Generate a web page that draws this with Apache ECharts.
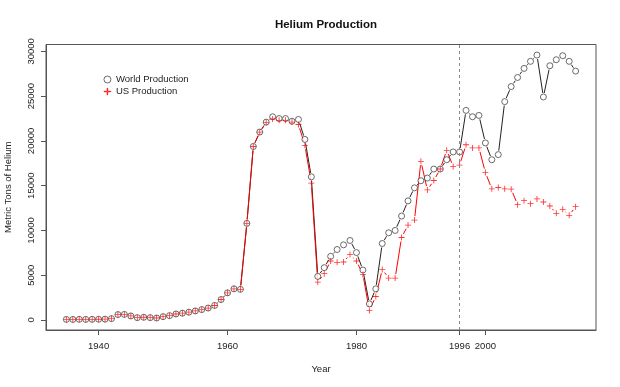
<!DOCTYPE html>
<html><head><meta charset="utf-8">
<script src="https://cdn.jsdelivr.net/npm/echarts@6/dist/echarts.min.js"></script>
<style>html,body{margin:0;padding:0;background:#fff}#c{width:620px;height:387px}</style>
</head><body><div id="c"></div>
<script>
const years = [1935,1936,1937,1938,1939,1940,1941,1942,1943,1944,1945,1946,1947,1948,1949,
  1950,1951,1952,1953,1954,1955,1956,1957,1958,1959,1960,1961,1962,1963,1964,1965,1966,1967,1968,1969,
  1970,1971,1972,1973,1974,1975,1976,1977,1978,1979,1980,1981,1982,1983,1984,1985,1986,1987,1988,1989,
  1990,1991,1992,1993,1994,1995,1996,1997,1998,1999,2000,2001,2002,2003,2004,2005,2006,2007,2008,2009,
  2010,2011,2012,2013,2014];
const worldProduction = [60,60,70,60,70,80,90,150,600,620,450,260,300,260,220,
  370,480,670,760,870,1010,1160,1330,1620,2280,3030,3480,3420,10790,19380,20990,22100,22700,22500,22500,
  22200,22400,20170,15990,4870,5840,7110,7870,8390,8880,7530,5580,1800,3480,8540,9740,10000,11610,13300,14760,
  15550,15850,16860,16860,17900,18770,18770,23410,22700,22850,19780,17900,18470,24390,26070,27090,28100,28890,29590,24910,
  28400,29070,29520,28890,27800];
const usProduction = [60,60,70,60,70,80,90,150,600,620,450,260,300,260,220,
  370,480,670,760,870,1010,1160,1330,1620,2280,3030,3480,3420,10790,19380,20990,22050,22450,22300,22300,
  22100,21840,19510,15280,4230,5170,6590,6440,6480,7300,6590,5090,1050,2620,5650,4680,4680,9210,10600,11160,
  17720,14530,15580,16860,18950,17150,17300,19570,19220,19220,16480,14650,14800,14650,14610,12880,13330,12990,13520,13180,
  12730,11910,12360,11690,12660];
const xTickValues = [1940,1960,1980,1996,2000];
const yTickValues = [0,5000,10000,15000,20000,25000,30000];
const markerYear = 1996;
const seriesNames = ['World Production','US Production'];

const FONT = '"Liberation Sans", Arial, Helvetica, sans-serif';
const plusPath = 'path://M3,0H4V3H7V4H4V7H3V4H0V3H3Z';

// R-style 4% axis padding
const xLo = Math.min(...years), xHi = Math.max(...years);
const xPad = 0.04 * (xHi - xLo);
const allVals = worldProduction.concat(usProduction);
const yLo = Math.min(...allVals), yHi = Math.max(...allVals);
const yPad = 0.04 * (yHi - yLo);

function segments(vals) {
  const out = [];
  for (let i = 1; i < years.length; i++) out.push([years[i-1], vals[i-1], years[i], vals[i]]);
  return out;
}
function gapLine(color) {
  return function (params, api) {
    const p0 = api.coord([api.value(0), api.value(1)]);
    const p1 = api.coord([api.value(2), api.value(3)]);
    const dx = p1[0] - p0[0], dy = p1[1] - p0[1];
    const len = Math.sqrt(dx*dx + dy*dy);
    const gap = 4;
    if (len <= 2*gap) return null;
    const ux = dx/len, uy = dy/len;
    return {
      type: 'line',
      shape: {x1: p0[0]+ux*gap, y1: p0[1]+uy*gap, x2: p1[0]-ux*gap, y2: p1[1]-uy*gap},
      style: {stroke: color, lineWidth: 1}
    };
  };
}
function pts(vals) { return years.map((y, i) => [y, vals[i]]); }

const chart = echarts.init(document.getElementById('c'), null, {renderer: 'canvas'});
chart.setOption({
  animation: false,
  backgroundColor: '#fff',
  textStyle: {fontFamily: FONT},
  title: {
    text: 'Helium Production', left: 321, top: 14, textAlign: 'center',
    textStyle: {fontFamily: FONT, fontSize: 11.5, fontWeight: 'bold', color: '#111'}
  },
  legend: {
    orient: 'vertical', left: 98.5, top: 69.5, padding: 5, itemWidth: 7, itemHeight: 7, itemGap: 2,
    selectedMode: false, inactiveColor: '#ff0000',
    textStyle: {fontFamily: FONT, fontSize: 9.5, color: '#222', lineHeight: 9},
    data: [
      {name: seriesNames[0], icon: 'circle', itemStyle: {color: '#fff', borderColor: '#333', borderWidth: 0.9}},
      {name: seriesNames[1], icon: plusPath, itemStyle: {color: '#ff0000', borderColor: '#ff0000', borderWidth: 0.4}}
    ]
  },
  grid: {left: 46, right: 24, top: 44.5, bottom: 57, containLabel: false, outerBoundsMode: 'none',
    show: true, borderColor: '#555', borderWidth: 1, backgroundColor: 'transparent'},
  xAxis: {
    type: 'value', min: xLo - xPad, max: xHi + xPad,
    name: 'Year', nameLocation: 'middle', nameGap: 34,
    nameTextStyle: {fontFamily: FONT, fontSize: 9.5, color: '#222'},
    axisLine: {show: true, onZero: false, lineStyle: {color: '#555', width: 1}},
    axisTick: {show: true, length: 5, customValues: xTickValues, lineStyle: {color: '#555', width: 1}},
    axisLabel: {customValues: xTickValues, margin: 11, fontFamily: FONT, fontSize: 9.5, color: '#222', formatter: v => String(v)},
    splitLine: {show: false}
  },
  yAxis: {
    type: 'value', min: yLo - yPad, max: yHi + yPad,
    name: 'Metric Tons of Helium', nameLocation: 'middle', nameGap: 33,
    nameTextStyle: {fontFamily: FONT, fontSize: 9.5, color: '#222'},
    axisLine: {show: true, onZero: false, lineStyle: {color: '#555', width: 1}},
    axisTick: {show: true, length: 5, customValues: yTickValues, lineStyle: {color: '#555', width: 1}},
    axisLabel: {customValues: yTickValues, rotate: 90, margin: 10, fontFamily: FONT, fontSize: 9.5, color: '#222', formatter: v => String(v)},
    splitLine: {show: false}
  },
  series: [
    {
      type: 'custom', name: 'worldLine', renderItem: gapLine('#222'),
      data: segments(worldProduction), encode: {x: [0, 2], y: [1, 3]}, silent: true,
      markLine: {
        silent: true, symbol: 'none', label: {show: false},
        lineStyle: {color: '#888', type: [3, 3], width: 1},
        data: [{xAxis: markerYear}]
      }
    },
    {
      type: 'scatter', name: seriesNames[0], data: pts(worldProduction),
      symbol: 'circle', symbolSize: 6, color: '#fff',
      itemStyle: {color: '#fff', borderColor: '#333', borderWidth: 0.9}
    },
    {
      type: 'custom', name: 'usLine', renderItem: gapLine('#ff0000'),
      data: segments(usProduction), encode: {x: [0, 2], y: [1, 3]}, silent: true
    },
    {
      type: 'scatter', name: seriesNames[1], data: pts(usProduction),
      symbol: plusPath, symbolSize: 6, color: '#ff0000',
      itemStyle: {color: '#ff0000', borderColor: '#ff0000', borderWidth: 0}
    }
  ]
});
</script>
</body></html>
